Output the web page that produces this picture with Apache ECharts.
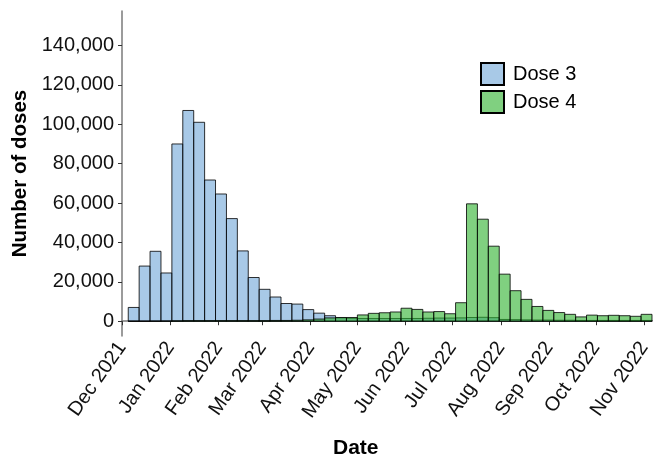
<!DOCTYPE html>
<html>
<head>
<meta charset="utf-8">
<script src="https://cdn.jsdelivr.net/npm/echarts@6/dist/echarts.min.js"></script>
<style>
html,body{margin:0;padding:0;background:#fff;}
#chart{width:654px;height:461px;}
</style>
</head>
<body>
<div id="chart"></div>
<script>
// Weekly bins (week start dates)
const weekStarts = [
  '2021-12-05','2021-12-12','2021-12-19','2021-12-26',
  '2022-01-02','2022-01-09','2022-01-16','2022-01-23','2022-01-30',
  '2022-02-06','2022-02-13','2022-02-20','2022-02-27',
  '2022-03-06','2022-03-13','2022-03-20','2022-03-27',
  '2022-04-03','2022-04-10','2022-04-17','2022-04-24',
  '2022-05-01','2022-05-08','2022-05-15','2022-05-22','2022-05-29',
  '2022-06-05','2022-06-12','2022-06-19','2022-06-26',
  '2022-07-03','2022-07-10','2022-07-17','2022-07-24','2022-07-31',
  '2022-08-07','2022-08-14','2022-08-21','2022-08-28',
  '2022-09-04','2022-09-11','2022-09-18','2022-09-25',
  '2022-10-02','2022-10-09','2022-10-16','2022-10-23','2022-10-30'
];
const binDays = 7;
const dose3 = [
  7000, 28000, 35500, 24500, 90000, 107000, 101000, 71700, 64600, 52100,
  35700, 22200, 16200, 12300, 9000, 8700, 5900, 4100,
  2800, 1700, 1500, 1400, 1400, 1400, 1400, 1400, 1400, 1500,
  1600, 1600, 1700, 1900, 2000, 1800, 900, 800, 700, 600,
  600, 500, 500, 400, 400, 400, 400, 400, 400, 400
];
const dose4 = [
  0, 0, 50, 100, 200, 300, 300, 300, 300, 300,
  300, 300, 300, 400, 400, 500, 700, 1100,
  1700, 1900, 1900, 3200, 4000, 4300, 4700, 6600, 6000, 4700,
  4900, 3800, 9400, 59600, 51800, 38100, 23900, 15500, 11100, 7500,
  5500, 4400, 3500, 2200, 3100, 2800, 3000, 2800, 2500, 3500
];
const seriesNames = ['Dose 3', 'Dose 4'];
const monthTicks = ['2021-12-01','2022-01-01','2022-02-01','2022-03-01','2022-04-01','2022-05-01',
  '2022-06-01','2022-07-01','2022-08-01','2022-09-01','2022-10-01','2022-11-01'];
const monthNames = ['Jan','Feb','Mar','Apr','May','Jun','Jul','Aug','Sep','Oct','Nov','Dec'];
const yTicks = [0, 20000, 40000, 60000, 80000, 100000, 120000, 140000];
const xRange = ['2021-12-01', '2022-11-06'];
const yRange = [-7500, 157500];

const ts = s => Date.parse(s + 'T00:00:00Z');
const DAY = 86400000;
const fill3 = 'rgba(110,165,215,0.6)';
const fill4 = 'rgba(43,177,43,0.6)';
const legend3 = '#a8c9e7';
const legend4 = '#80d080';
const fmtNum = v => String(v).replace(/\B(?=(\d{3})+(?!\d))/g, ',');
const FONT = '"Liberation Sans", Arial, Helvetica, sans-serif';

function makeData(vals) {
  return weekStarts.map((d, i) => [ts(d), ts(d) + binDays * DAY, vals[i]]);
}
function makeRender(fill) {
  return function (params, api) {
    const p0 = api.coord([api.value(0), api.value(2)]);
    const p1 = api.coord([api.value(1), 0]);
    return {
      type: 'rect',
      shape: { x: p0[0], y: p0[1], width: p1[0] - p0[0], height: p1[1] - p0[1] },
      style: { fill: fill, stroke: 'rgba(0,0,0,0.8)', lineWidth: 1 }
    };
  };
}

const chart = echarts.init(document.getElementById('chart'), null, { renderer: 'canvas' });
chart.setOption({
  animation: false,
  backgroundColor: '#fff',
  textStyle: { fontFamily: FONT },
  title: {
    text: 'Date', left: 333, top: 438, padding: 0,
    textStyle: { fontFamily: FONT, fontSize: 21, fontWeight: 'bold', color: '#000' }
  },
  legend: {
    orient: 'vertical', left: 480, top: 62, padding: 0,
    itemWidth: 23, itemHeight: 22, itemGap: 4, icon: 'rect',
    textStyle: { fontFamily: FONT, fontSize: 20, color: '#000', padding: [0, 0, 0, 4] },
    data: [
      { name: seriesNames[0], itemStyle: { color: legend3, borderColor: '#000', borderWidth: 2 } },
      { name: seriesNames[1], itemStyle: { color: legend4, borderColor: '#000', borderWidth: 2 } }
    ]
  },
  grid: { left: 122, right: 2, top: 11, bottom: 125, containLabel: false, outerBoundsMode: 'none' },
  xAxis: {
    type: 'value',
    min: ts(xRange[0]), max: ts(xRange[1]),
    splitLine: { show: false },
    axisLine: { show: true, lineStyle: { color: '#7a7a7a', width: 1.5 } },
    axisTick: { show: true, length: 4, lineStyle: { color: '#333' }, customValues: monthTicks.map(ts) },
    axisLabel: {
      customValues: monthTicks.map(ts),
      rotate: 55, margin: 8, fontSize: 20, color: '#111', fontFamily: FONT,
      formatter: v => { const d = new Date(v); return monthNames[d.getUTCMonth()] + ' ' + d.getUTCFullYear(); }
    }
  },
  yAxis: {
    type: 'value',
    min: yRange[0], max: yRange[1],
    name: 'Number of doses', nameLocation: 'middle', nameGap: 84,
    nameTextStyle: { fontFamily: FONT, fontSize: 20.5, fontWeight: 'bold', color: '#000' },
    splitLine: { show: false },
    axisLine: { show: true, lineStyle: { color: '#7a7a7a', width: 1.5 } },
    axisTick: { show: true, length: 4, lineStyle: { color: '#333' }, customValues: yTicks },
    axisLabel: { customValues: yTicks, margin: 8, fontSize: 20, color: '#111', fontFamily: FONT, formatter: v => fmtNum(v) }
  },
  series: [
    { name: seriesNames[0], type: 'custom', renderItem: makeRender(fill3), encode: { x: [0, 1], y: 2 },
      itemStyle: { color: legend3 }, data: makeData(dose3) },
    { name: seriesNames[1], type: 'custom', renderItem: makeRender(fill4), encode: { x: [0, 1], y: 2 },
      itemStyle: { color: legend4 }, data: makeData(dose4) }
  ]
});
</script>
</body>
</html>
